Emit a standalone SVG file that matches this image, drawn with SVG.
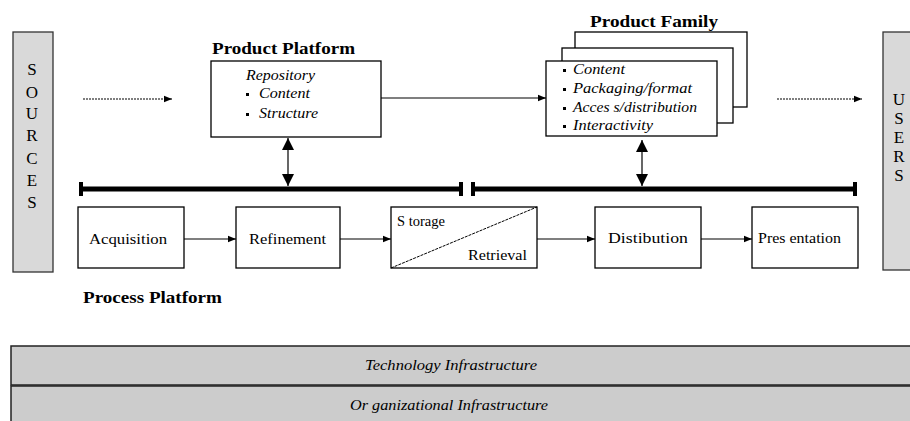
<svg xmlns="http://www.w3.org/2000/svg" width="910" height="421" viewBox="0 0 910 421">
<defs>
<style>
text{font-family:"Liberation Serif","DejaVu Serif","Times New Roman",Times,serif}
.box{fill:#fff;stroke:#000;stroke-width:1.3}
.side{fill:#d9d9d9;stroke:#333;stroke-width:1.3}
.band{fill:#cccccc;stroke:#222;stroke-width:1.5}
.t{font-size:15px;fill:#000}
.ti{font-size:14px;font-style:italic;fill:#000}
.tb{font-size:17px;font-weight:bold;fill:#000}
.let{font-size:17px;fill:#000;text-anchor:middle}
.ln{stroke:#000;stroke-width:1.2;fill:none}
.dot{stroke:#000;stroke-width:1.2;stroke-dasharray:2 1;fill:none}
.bar{stroke:#000;stroke-width:5;fill:none}
.cap{stroke:#000;stroke-width:4;fill:none}
</style>
<marker id="ah" viewBox="0 0 10 10" refX="10" refY="5" markerWidth="10" markerHeight="8" markerUnits="userSpaceOnUse" orient="auto">
<path d="M0,1 L10,5 L0,9 z" fill="#000"/>
</marker>
<marker id="ah2" viewBox="0 0 10 10" refX="10" refY="5" markerWidth="12" markerHeight="12" markerUnits="userSpaceOnUse" orient="auto-start-reverse">
<path d="M0,0 L10,5 L0,10 z" fill="#000"/>
</marker>
</defs>
<rect width="910" height="421" fill="#fff"/>

<g id="sources">
<rect class="side" x="13" y="32" width="40" height="240"/>
<text class="let" x="32" y="75">S</text>
<text class="let" x="32" y="98">O</text>
<text class="let" x="32" y="119">U</text>
<text class="let" x="32" y="141">R</text>
<text class="let" x="32" y="164">C</text>
<text class="let" x="32" y="186">E</text>
<text class="let" x="32" y="208">S</text>
</g>

<g id="users">
<rect class="side" x="883" y="32" width="40" height="238"/>
<text class="let" x="899" y="105">U</text>
<text class="let" x="899" y="124">S</text>
<text class="let" x="899" y="143">E</text>
<text class="let" x="899" y="162">R</text>
<text class="let" x="899" y="181">S</text>
</g>

<g id="product-platform">
<text class="tb" x="212" y="54" textLength="143" lengthAdjust="spacingAndGlyphs">Product Platform</text>
<rect class="box" x="211" y="61" width="170" height="76"/>
<text class="ti" x="246" y="80" textLength="69" lengthAdjust="spacingAndGlyphs">Repository</text>
<rect x="246" y="93" width="3" height="3" fill="#000"/>
<text class="ti" x="259" y="98" textLength="51" lengthAdjust="spacingAndGlyphs">Content</text>
<rect x="246" y="113" width="3" height="3" fill="#000"/>
<text class="ti" x="259" y="118" textLength="59" lengthAdjust="spacingAndGlyphs">Structure</text>
</g>

<g id="product-family">
<text class="tb" x="590" y="27" textLength="128" lengthAdjust="spacingAndGlyphs">Product Family</text>
<rect class="box" x="575" y="32" width="172" height="75"/>
<rect class="box" x="562" y="48" width="171" height="75"/>
<rect class="box" x="546" y="61" width="171" height="75"/>
<rect x="563" y="69" width="3" height="3" fill="#000"/>
<text class="ti" x="573" y="74" textLength="52" lengthAdjust="spacingAndGlyphs">Content</text>
<rect x="563" y="88" width="3" height="3" fill="#000"/>
<text class="ti" x="573" y="93" textLength="119" lengthAdjust="spacingAndGlyphs">Packaging/format</text>
<rect x="563" y="107" width="3" height="3" fill="#000"/>
<text class="ti" x="573" y="112" textLength="124" lengthAdjust="spacingAndGlyphs">Acces s/distribution</text>
<rect x="563" y="125" width="3" height="3" fill="#000"/>
<text class="ti" x="573" y="130" textLength="80" lengthAdjust="spacingAndGlyphs">Interactivity</text>
</g>

<g id="acquisition">
<rect class="box" x="78" y="207" width="106" height="61"/>
<text class="t" x="89" y="244" textLength="78" lengthAdjust="spacingAndGlyphs">Acquisition</text>
</g>
<g id="refinement">
<rect class="box" x="236" y="207" width="104" height="61"/>
<text class="t" x="249" y="244" textLength="77" lengthAdjust="spacingAndGlyphs">Refinement</text>
</g>
<g id="storage-retrieval">
<rect class="box" x="391" y="207" width="146" height="61"/>
<line x1="391" y1="268" x2="537" y2="207" stroke="#000" stroke-width="1" stroke-dasharray="3 1"/>
<text class="t" x="397" y="226" textLength="48" lengthAdjust="spacingAndGlyphs">S torage</text>
<text class="t" x="468" y="260" textLength="59" lengthAdjust="spacingAndGlyphs">Retrieval</text>
</g>
<g id="distribution">
<rect class="box" x="595" y="207" width="106" height="61"/>
<text class="t" x="608" y="243" textLength="80" lengthAdjust="spacingAndGlyphs">Distibution</text>
</g>
<g id="presentation">
<rect class="box" x="752" y="207" width="106" height="61"/>
<text class="t" x="758" y="243" textLength="83" lengthAdjust="spacingAndGlyphs">Pres entation</text>
</g>

<g id="process-platform">
<text class="tb" x="83" y="303" textLength="139" lengthAdjust="spacingAndGlyphs">Process Platform</text>
</g>

<g id="infrastructure">
<rect class="band" x="11" y="346" width="905" height="39"/>
<rect class="band" x="11" y="386" width="905" height="40"/>
<text class="ti" x="365" y="370" textLength="172" lengthAdjust="spacingAndGlyphs">Technology Infrastructure</text>
<text class="ti" x="350" y="410" textLength="198" lengthAdjust="spacingAndGlyphs">Or ganizational Infrastructure</text>
</g>

<g id="connectors">
<line class="bar" x1="80" y1="189" x2="462" y2="189"/>
<line class="cap" x1="81" y1="182" x2="81" y2="196"/>
<line class="cap" x1="461" y1="182" x2="461" y2="196"/>
<line class="bar" x1="473" y1="189" x2="856" y2="189"/>
<line class="cap" x1="473" y1="182" x2="473" y2="196"/>
<line class="cap" x1="855" y1="182" x2="855" y2="196"/>

<line class="ln" x1="288" y1="138" x2="288" y2="186" stroke-width="2" marker-start="url(#ah2)" marker-end="url(#ah2)"/>
<line class="ln" x1="642" y1="140" x2="642" y2="186" stroke-width="2" marker-start="url(#ah2)" marker-end="url(#ah2)"/>

<line class="ln" x1="381" y1="98" x2="546" y2="98" marker-end="url(#ah)"/>
<line class="dot" x1="83" y1="99" x2="172" y2="99" marker-end="url(#ah)"/>
<line class="dot" x1="777" y1="99" x2="862" y2="99" marker-end="url(#ah)"/>

<line class="ln" x1="184" y1="239" x2="236" y2="239" marker-end="url(#ah)"/>
<line class="ln" x1="340" y1="239" x2="391" y2="239" marker-end="url(#ah)"/>
<line class="ln" x1="537" y1="239" x2="595" y2="239" marker-end="url(#ah)"/>
<line class="ln" x1="701" y1="239" x2="752" y2="239" marker-end="url(#ah)"/>
</g>
</svg>
